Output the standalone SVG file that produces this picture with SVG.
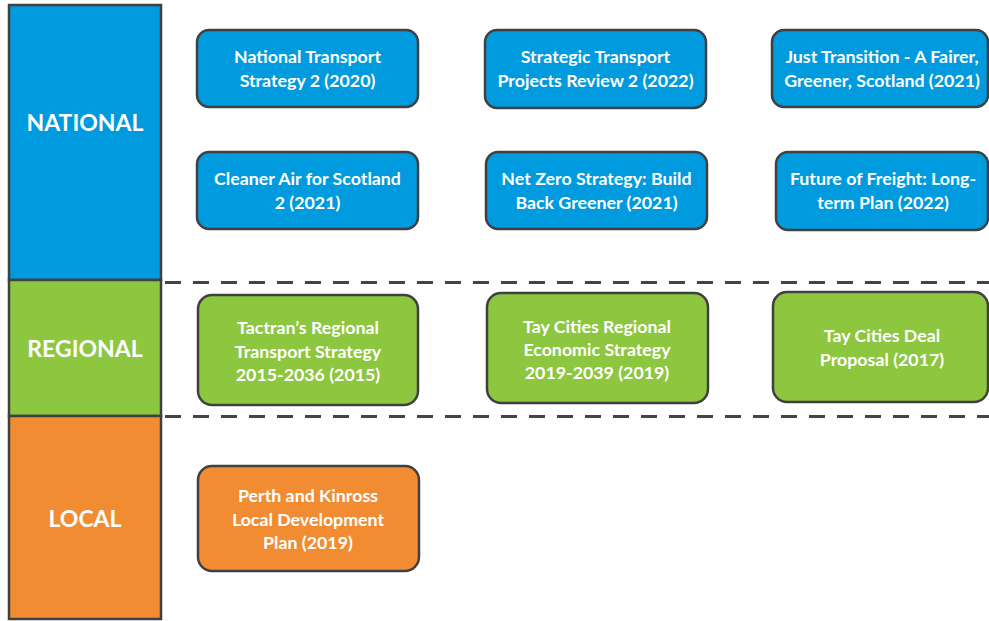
<svg xmlns="http://www.w3.org/2000/svg" width="989" height="621" viewBox="0 0 989 621">
<style>
.band{stroke:#404040;stroke-width:2.5}
.box{stroke:#404040;stroke-width:2.5}
.blue{fill:#009ADE}
.green{fill:#8DC63F}
.orange{fill:#F28C33}
.t{font-family:Lato,"Open Sans","Liberation Sans",sans-serif;font-weight:bold;fill:#fff;text-anchor:middle;font-size:17.8px}
.lbl{font-family:Lato,"Open Sans","Liberation Sans",sans-serif;font-weight:bold;fill:#fff;text-anchor:middle;font-size:23px}
.dash{stroke:#444;stroke-width:3;stroke-dasharray:16 12;fill:none}
</style>
<rect width="989" height="621" fill="#fff"/>
<g id="connectors">
<line class="dash" x1="165" y1="282.5" x2="989" y2="282.5"/>
<line class="dash" x1="165" y1="416.5" x2="989" y2="416.5"/>
</g>
<g id="national-band"><rect class="band blue" x="9" y="5" width="152" height="275"/><text class="lbl" x="85" y="131">NATIONAL</text></g>
<g id="regional-band"><rect class="band green" x="9" y="280" width="152" height="136"/><text class="lbl" x="85" y="357">REGIONAL</text></g>
<g id="local-band"><rect class="band orange" x="9" y="416" width="152" height="203"/><text class="lbl" x="85" y="527">LOCAL</text></g>

<g id="nts2"><rect class="box blue" x="197" y="30" width="221" height="77" rx="12"/><text class="t" x="307.5" y="63">National Transport</text><text class="t" x="307.5" y="87">Strategy 2 (2020)</text></g>
<g id="stpr2"><rect class="box blue" x="485" y="30" width="221" height="78" rx="12"/><text class="t" x="595.5" y="63">Strategic Transport</text><text class="t" x="595.5" y="87">Projects Review 2 (2022)</text></g>
<g id="just-transition"><rect class="box blue" x="772" y="30" width="216" height="77" rx="12"/><text class="t" x="882" y="63">Just Transition - A Fairer,</text><text class="t" x="882" y="87">Greener, Scotland (2021)</text></g>
<g id="cleaner-air"><rect class="box blue" x="197" y="152" width="221" height="77" rx="12"/><text class="t" x="307.5" y="185">Cleaner Air for Scotland</text><text class="t" x="307.5" y="209">2 (2021)</text></g>
<g id="net-zero"><rect class="box blue" x="486" y="152" width="221" height="77" rx="12"/><text class="t" x="596.5" y="185">Net Zero Strategy: Build</text><text class="t" x="596.5" y="209">Back Greener (2021)</text></g>
<g id="future-freight"><rect class="box blue" x="776" y="152" width="212" height="78" rx="12"/><text class="t" x="883" y="185">Future of Freight: Long-</text><text class="t" x="883" y="209">term Plan (2022)</text></g>

<g id="tactran"><rect class="box green" x="198" y="295" width="220" height="110" rx="14"/><text class="t" x="308" y="334">Tactran’s Regional</text><text class="t" x="308" y="358">Transport Strategy</text><text class="t" x="308" y="381">2015-2036 (2015)</text></g>
<g id="tay-res"><rect class="box green" x="487" y="293" width="221" height="110" rx="14"/><text class="t" x="597" y="333">Tay Cities Regional</text><text class="t" x="597" y="356">Economic Strategy</text><text class="t" x="597" y="379">2019-2039 (2019)</text></g>
<g id="tay-deal"><rect class="box green" x="773" y="292" width="215" height="110" rx="14"/><text class="t" x="882" y="342">Tay Cities Deal</text><text class="t" x="882" y="366">Proposal (2017)</text></g>

<g id="perth-ldp"><rect class="box orange" x="198" y="466" width="221" height="105" rx="14"/><text class="t" x="308" y="502">Perth and Kinross</text><text class="t" x="308" y="526">Local Development</text><text class="t" x="308" y="549">Plan (2019)</text></g>
</svg>
